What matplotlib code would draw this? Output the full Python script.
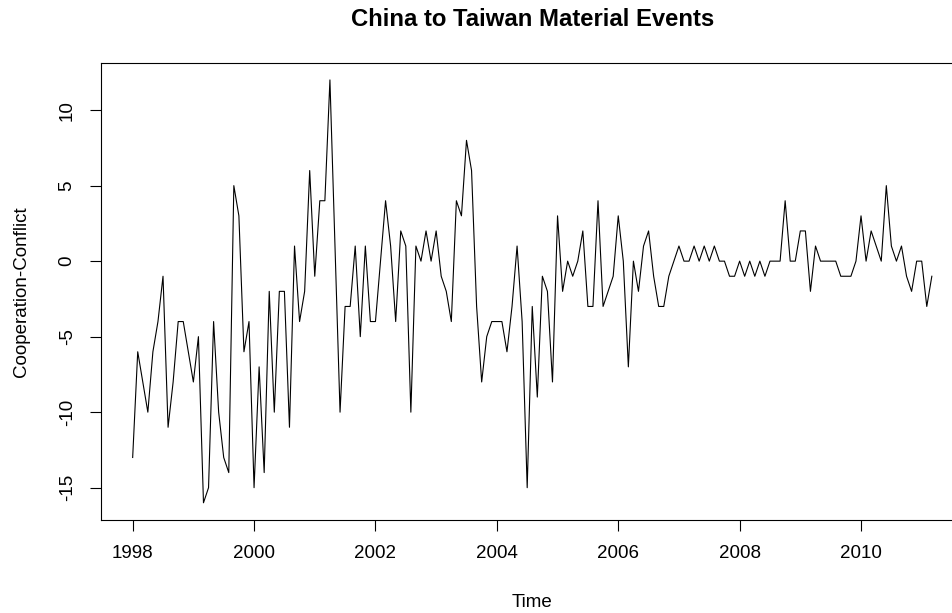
import matplotlib
matplotlib.use("Agg")
import matplotlib.pyplot as plt
import numpy as np

plt.rcParams['font.family'] = ['Liberation Sans', 'DejaVu Sans']

# monthly series, Jan 1998 - Mar 2011
start_year = 1998
events = [-13, -6, -8, -10, -6, -4, -1, -11, -8, -4, -4, -6,
          -8, -5, -16, -15, -4, -10, -13, -14, 5, 3, -6, -4,
          -15, -7, -14, -2, -10, -2, -2, -11, 1, -4, -2, 6,
          -1, 4, 4, 12, 1, -10, -3, -3, 1, -5, 1, -4,
          -4, 0, 4, 1, -4, 2, 1, -10, 1, 0, 2, 0,
          2, -1, -2, -4, 4, 3, 8, 6, -3, -8, -5, -4,
          -4, -4, -6, -3, 1, -4, -15, -3, -9, -1, -2, -8,
          3, -2, 0, -1, 0, 2, -3, -3, 4, -3, -2, -1,
          3, 0, -7, 0, -2, 1, 2, -1, -3, -3, -1, 0,
          1, 0, 0, 1, 0, 1, 0, 1, 0, 0, -1, -1,
          0, -1, 0, -1, 0, -1, 0, 0, 0, 4, 0, 0,
          2, 2, -2, 1, 0, 0, 0, 0, -1, -1, -1, 0,
          3, 0, 2, 1, 0, 5, 1, 0, 1, -1, -2, 0,
          0, -3, -1]
year_ticks = [1998, 2000, 2002, 2004, 2006, 2008, 2010]
value_ticks = [-15, -10, -5, 0, 5, 10]

t = start_year + np.arange(len(events)) / 12.0

fig = plt.figure(figsize=(9.52, 6.13), dpi=100)
# R-style plot region (4% padding on each side, right edge runs off the canvas)
W, H = 952, 613
left_px, right_px, top_px, bottom_px = 100.7, 963.8, 63.0, 519.7
ax = fig.add_axes([left_px / W, 1 - bottom_px / H,
                   (right_px - left_px) / W, (bottom_px - top_px) / H])

ax.plot(t, events, color='black', linewidth=0.8)

xpad = (t[-1] - t[0]) * 0.04
ypad = (max(events) - min(events)) * 0.04
ax.set_xlim(t[0] - xpad, t[-1] + xpad)
ax.set_ylim(min(events) - ypad, max(events) + ypad)

ax.set_xticks(year_ticks)
ax.set_xticklabels([str(y) for y in year_ticks])
ax.set_yticks(value_ticks)
ax.set_yticklabels([str(v) for v in value_ticks], rotation=90, va='center')

ax.tick_params(direction='out', length=8, width=0.8, labelsize=13.5, pad=10,
               colors='black')
for s in ax.spines.values():
    s.set_linewidth(0.8)
    s.set_color('black')

ax.set_title("China to Taiwan Material Events", fontsize=17.2,
             fontweight='bold', pad=27)
ax.set_xlabel("Time", fontsize=13.5)
ax.set_ylabel("Cooperation-Conflict", fontsize=13.5)
ax.xaxis.set_label_coords(0.5, -0.163)
ax.xaxis.label.set_va('top')
ax.yaxis.set_label_coords(-0.082, 0.5)

fig.savefig("out.png", dpi=100)
